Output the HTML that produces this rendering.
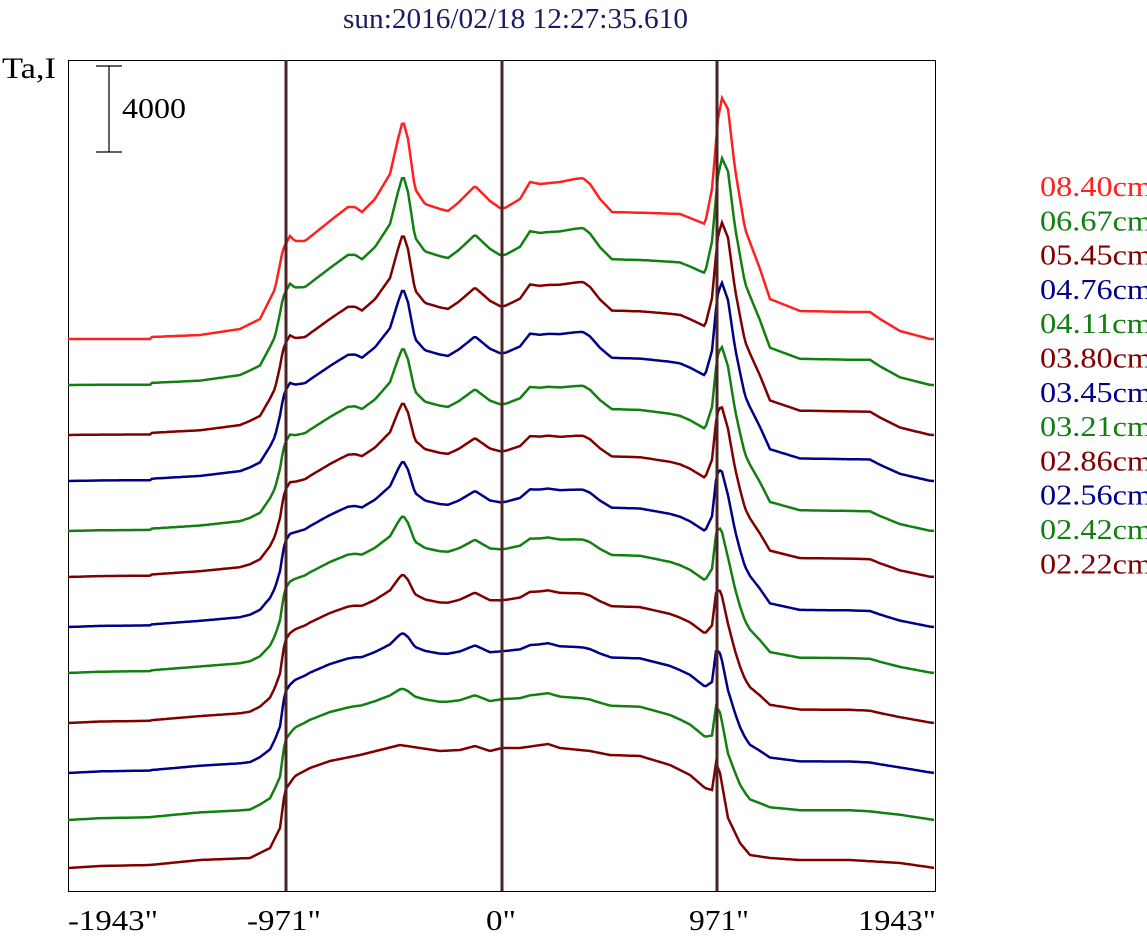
<!DOCTYPE html>
<html><head><meta charset="utf-8"><style>
html,body{margin:0;padding:0;background:#fff;}
svg{display:block}
text{font-family:"Liberation Serif",serif;}
</style></head><body>
<svg id="s" width="1147" height="941" viewBox="0 0 1147 941" xmlns="http://www.w3.org/2000/svg">
<rect width="1147" height="941" fill="#fff"/>
<text x="343" y="28" font-size="29" fill="#1a1a66" textLength="345" lengthAdjust="spacingAndGlyphs">sun:2016/02/18 12:27:35.610</text>
<text x="2" y="78" font-size="30" fill="#000" textLength="54" lengthAdjust="spacingAndGlyphs">Ta,I</text>
<rect x="68.5" y="60.5" width="867" height="831" fill="none" stroke="#000" stroke-width="1"/>
<line x1="109" y1="66" x2="109" y2="152" stroke="#000" stroke-width="1.2"/>
<line x1="96" y1="66" x2="122" y2="66" stroke="#000" stroke-width="1.2"/>
<line x1="96" y1="152" x2="122" y2="152" stroke="#000" stroke-width="1.2"/>
<text x="122" y="118" font-size="29" fill="#000" textLength="64" lengthAdjust="spacingAndGlyphs">4000</text>
<g id="curves"></g>
<line x1="286" y1="60" x2="286" y2="891" stroke="#4a2424" stroke-width="3"/>
<line x1="502" y1="60" x2="502" y2="891" stroke="#4a2424" stroke-width="3"/>
<line x1="717" y1="60" x2="717" y2="891" stroke="#4a2424" stroke-width="3"/>
<g font-size="29" fill="#000">
<text x="68" y="930" textLength="90" lengthAdjust="spacingAndGlyphs">-1943"</text>
<text x="247" y="930" textLength="74" lengthAdjust="spacingAndGlyphs">-971"</text>
<text x="486" y="930" textLength="30" lengthAdjust="spacingAndGlyphs">0"</text>
<text x="689" y="930" textLength="60" lengthAdjust="spacingAndGlyphs">971"</text>
<text x="858" y="930" textLength="78" lengthAdjust="spacingAndGlyphs">1943"</text>
</g>
<g font-size="28" id="leg"></g>
</svg>
<script>
var R=[[68,0],[150,0],[152,2],[200,4],[240,10],[260,20],[275,50],[283,90],[290,103],[295,98],[305,98],[320,110],[335,122],[348,132],[355,132],[362,127],[375,140],[390,165],[398,200],[403,219],[408,200],[415,150],[425,135],[440,130],[448,128],[458,136],[475,153],[490,138],[500,131],[505,131],[520,140],[530,157],[540,155],[560,157],[575,160],[583,161],[590,155],[600,140],[612,127],[650,126],[680,125],[705,115],[712,150],[718,220],[722,241],[728,230],[735,170],[745,110],[760,70],[770,40],[790,32],[800,28],[850,27],[870,27],[880,20],[900,8],[930,0],[935,0]];
var Q=[[68,0],[100,2],[150,3],[200,8],[250,10],[270,20],[280,40],[285,78],[295,92],[310,100],[330,107],[360,113],[400,123],[420,120],[440,117],[460,118],[475,122],[490,117],[502,120],[520,120],[548,124],[560,120],[590,117],[610,113],[640,112],[670,103],[690,93],[705,80],[712,78],[716,105],[720,95],[728,50],[740,25],[750,13],[770,10],[800,8],[850,8],[900,5],[935,0]];
function f(P,x){for(var i=1;i<P.length;i++){if(x<=P[i][0]){var a=P[i-1],b=P[i];return a[1]+(b[1]-a[1])*(x-a[0])/(b[0]-a[0]);}}return 0;}
var base=[339,385,435,481,531,577,627,673,723,773,820,868];
var C={r:"#ff2020",g:"#118011",d:"#800000",b:"#000088"};
var cols=["r","g","d","b","g","d","b","g","d","b","g","d"];
var labs=["08.40","06.67","05.45","04.76","04.11","03.80","03.45","03.21","02.86","02.56","02.42","02.22"];
var ns="http://www.w3.org/2000/svg",g=document.getElementById("curves"),lg=document.getElementById("leg");
for(var i=0;i<12;i++){var w=(11-i)/11,d="";
for(var x=68;x<=935;x+=2){var h=w*f(R,x)+(1-w)*f(Q,x);d+=(x==68?"M":"L")+x+" "+(base[i]-h).toFixed(1);}
var p=document.createElementNS(ns,"path");p.setAttribute("d",d);p.setAttribute("fill","none");p.setAttribute("stroke",C[cols[i]]);p.setAttribute("stroke-width","2.5");g.appendChild(p);
var t=document.createElementNS(ns,"text");t.setAttribute("x","1040");t.setAttribute("y",String(196+i*34.3));t.setAttribute("fill",C[cols[i]]);t.setAttribute("textLength","112");t.setAttribute("lengthAdjust","spacingAndGlyphs");t.textContent=labs[i]+"cm";lg.appendChild(t);}
</script>
</body></html>
